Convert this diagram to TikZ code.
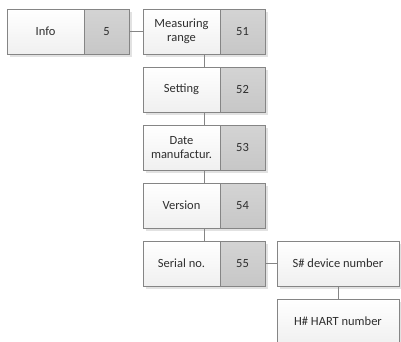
\documentclass[tikz,border=0pt]{standalone}
\usepackage{fontspec}
\setmainfont{Carlito}
\usetikzlibrary{shadows,calc}
\definecolor{bordergray}{HTML}{858585}
\definecolor{txtgray}{HTML}{2E2E2E}
\definecolor{shadowgray}{HTML}{E2E2E2}
\tikzset{
  basebox/.style={draw=bordergray, line width=0.8pt, inner sep=0pt, outer sep=0pt,
    minimum height=45pt, anchor=north west, align=center, text=txtgray,
    font=\fontsize{12.5}{14.5}\selectfont,
    general shadow={shadow xshift=2.5pt, shadow yshift=-3pt, fill=shadowgray}},
  namebox/.style={basebox, minimum width=77pt, top color=white, bottom color=black!6},
  numbox/.style={basebox, minimum width=45pt, top color=black!17, bottom color=black!22},
  widebox/.style={basebox, minimum width=122pt, top color=white, bottom color=black!6},
  link/.style={draw=bordergray, line width=0.8pt}
}
\begin{document}
\begin{tikzpicture}[x=1pt,y=-1pt]
\clip (0,0) rectangle (401,341);
\fill[white] (0,0) rectangle (401,341);
% Info
\node[namebox] (info) at (7,9) {Info};
\node[numbox] (infon) at (84,9) {5};
% column
\node[namebox] (meas) at (143,9) {Measuring\\range};
\node[numbox] (measn) at (220,9) {51};
\node[namebox] (sett) at (143,67) {Setting};
\node[numbox] (settn) at (220,67) {52};
\node[namebox] (date) at (143,125) {Date\\manufactur.};
\node[numbox] (daten) at (220,125) {53};
\node[namebox] (vers) at (143,183) {Version};
\node[numbox] (versn) at (220,183) {54};
\node[namebox] (ser) at (143,241) {Serial no.};
\node[numbox] (sern) at (220,241) {55};
\node[widebox] (sdev) at (277,241) {S\# device number};
\node[widebox] (hart) at (277,299) {H\# HART number};
% connectors
\draw[link] (infon.east) -- (meas.west);
\draw[link] ($(meas.south west)!0.5!(measn.south east)$) -- ($(sett.north west)!0.5!(settn.north east)$);
\draw[link] ($(sett.south west)!0.5!(settn.south east)$) -- ($(date.north west)!0.5!(daten.north east)$);
\draw[link] ($(date.south west)!0.5!(daten.south east)$) -- ($(vers.north west)!0.5!(versn.north east)$);
\draw[link] ($(vers.south west)!0.5!(versn.south east)$) -- ($(ser.north west)!0.5!(sern.north east)$);
\draw[link] (sern.east) -- (sdev.west);
\draw[link] (sdev.south) -- (hart.north);
\end{tikzpicture}
\end{document}
